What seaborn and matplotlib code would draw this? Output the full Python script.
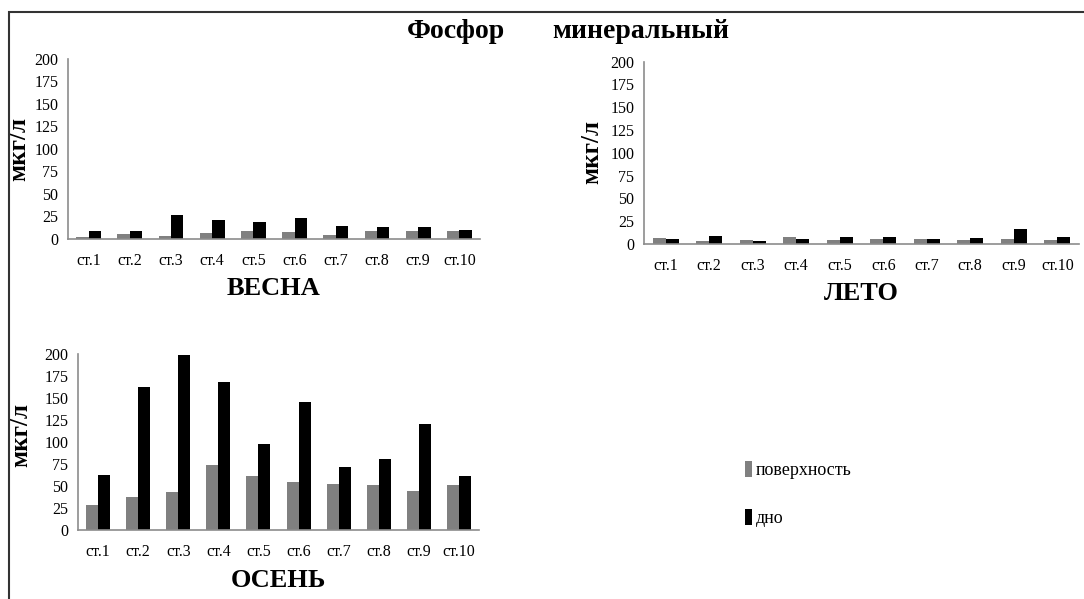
import pandas as pd
import matplotlib.pyplot as plt
import seaborn as sns
from matplotlib.patches import Rectangle, Patch

# station labels and measured values (мкг/л)
stations = ['ст.1', 'ст.2', 'ст.3', 'ст.4', 'ст.5', 'ст.6', 'ст.7', 'ст.8', 'ст.9', 'ст.10']
series = ['поверхность', 'дно']

spring_top = [2, 5, 3, 6.7, 8.9, 7.4, 4.4, 9.3, 8.5, 8.5]
spring_bottom = [9.3, 8.9, 26.7, 21, 18.9, 23, 14, 13.3, 13.3, 10]

summer_top = [6.2, 3.3, 4, 7.3, 4.4, 5.5, 5.5, 4.4, 5.5, 4.4]
summer_bottom = [5.5, 8.8, 2.9, 5.5, 8, 7.3, 5.5, 7, 16.5, 7.3]

autumn_top = [28.8, 37.5, 43.2, 74.6, 61.4, 54.5, 52.3, 51.9, 44.7, 51.9]
autumn_bottom = [63.3, 163.3, 199.6, 168.6, 98.5, 145.8, 72, 81.4, 120.5, 61.7]

sns.set_style("white")
plt.rcParams['font.family'] = ['Liberation Serif', 'DejaVu Serif']
plt.rcParams.update({'text.color': 'black', 'axes.labelcolor': 'black',
                     'xtick.color': 'black', 'ytick.color': 'black'})

palette = {'поверхность': '#808080', 'дно': '#000000'}
W, H = 1084, 599
fig = plt.figure(figsize=(W / 100, H / 100), dpi=100)

# outer frame
fig.patches.append(Rectangle((9 / W, -0.05), 1.2, (H - 12) / H + 0.05,
                             transform=fig.transFigure, fill=False,
                             edgecolor='#333333', linewidth=1.5))


def to_long(top, bottom):
    return pd.DataFrame({
        'station': stations * 2,
        'value': top + bottom,
        'layer': [series[0]] * len(stations) + [series[1]] * len(stations),
    })


def season_panel(box, top, bottom, name, ylab_xy):
    left, right, ytop, ybot = box
    ax = fig.add_axes([left / W, (H - ybot) / H, (right - left) / W, (ybot - ytop) / H])
    sns.barplot(data=to_long(top, bottom), x='station', y='value', hue='layer',
                palette=palette, width=0.6, linewidth=0, saturation=1,
                legend=False, ax=ax)
    ax.set_ylim(0, 200)
    ax.set_yticks(range(0, 201, 25))
    ax.set_xlim(-0.5, 9.5)
    sns.despine(ax=ax)
    for s in ['left', 'bottom']:
        ax.spines[s].set_color('#8c8c8c')
        ax.spines[s].set_linewidth(1.2)
    ax.tick_params(axis='y', direction='out', length=4, color='#8c8c8c',
                   labelsize=11.5, pad=3)
    ax.tick_params(axis='x', length=0, labelsize=11.5, pad=10)
    ax.set_ylabel('мкг/л', fontsize=18, fontweight='bold')
    ax.yaxis.set_label_coords(ylab_xy[0] / W, 1 - ylab_xy[1] / H, transform=fig.transFigure)
    ax.set_xlabel(name, fontsize=19, fontweight='bold', labelpad=6)
    return ax


season_panel((68, 480, 58.7, 239), spring_top, spring_bottom, 'ВЕСНА', (30, 149))
season_panel((644, 1079, 61.7, 244), summer_top, summer_bottom, 'ЛЕТО', (603, 152))
season_panel((78, 479, 354.3, 530.3), autumn_top, autumn_bottom, 'ОСЕНЬ', (32, 435))

fig.text(407 / W, 1 - 32 / H, 'Фосфор', fontsize=20, fontweight='bold', va='center')
fig.text(552 / W, 1 - 32 / H, 'минеральный', fontsize=20, fontweight='bold', va='center')

handles = [Patch(facecolor=palette[s], edgecolor='none') for s in series]
fig.legend(handles, series, loc='upper left', bbox_to_anchor=(729 / W, 1 - 445 / H),
           frameon=False, fontsize=13, handlelength=0.4, handleheight=0.95,
           handletextpad=0.2, labelspacing=1.65)

fig.savefig('out.png', dpi=100)
